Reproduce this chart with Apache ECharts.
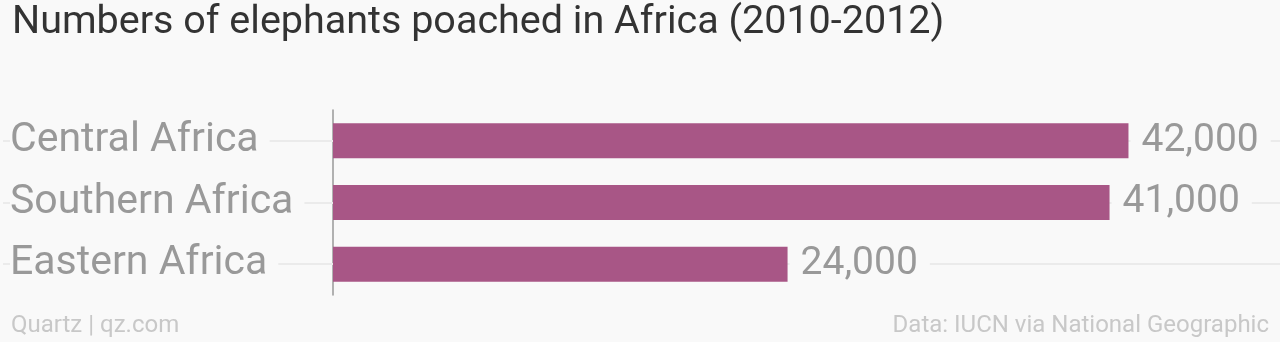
<!DOCTYPE html>
<html><head><meta charset="utf-8">
<script src="https://cdn.jsdelivr.net/npm/echarts@6/dist/echarts.min.js"></script>
<style>html,body{margin:0;padding:0;background:#f9f9f9}#c{width:1280px;height:342px}</style>
</head><body><div id="c"></div>
<script>
const categories = ['Central Africa', 'Southern Africa', 'Eastern Africa'];
const values = [42000, 41000, 24000];
const titleText = 'Numbers of elephants poached in Africa (2010-2012)';
const sourceLeft = 'Quartz | qz.com';
const sourceRight = 'Data: IUCN via National Geographic';

const chart = echarts.init(document.getElementById('c'), null, {renderer: 'canvas'});
const font = 'Roboto, "Open Sans", sans-serif';
chart.setOption({
  backgroundColor: '#f9f9f9',
  animation: false,
  title: [
    {text: titleText, left: 7, top: -2, textStyle: {fontFamily: font, fontSize: 39.5, fontWeight: 'normal', color: '#333'}},
    {text: sourceLeft, left: 6, bottom: -1, textStyle: {fontFamily: font, fontSize: 24, fontWeight: 'normal', color: '#c8c8c8'}},
    {text: sourceRight, right: 6, bottom: -1, textStyle: {fontFamily: font, fontSize: 24, fontWeight: 'normal', color: '#c8c8c8'}}
  ],
  grid: {left: 333, top: 110, width: 947, height: 185, containLabel: false},
  xAxis: {type: 'value', min: 0, max: 50000, show: false},
  yAxis: {
    type: 'category', data: categories, inverse: true,
    axisLine: {show: true, lineStyle: {color: '#999', width: 1.5}},
    axisTick: {show: true, alignWithLabel: true, length: 330, lineStyle: {color: '#ebebeb', width: 2}},
    splitLine: {show: true, alignWithLabel: true, lineStyle: {color: '#ebebeb', width: 2}},
    axisLabel: {
      align: 'left', margin: 323, fontFamily: font, fontSize: 41, color: '#999',
      backgroundColor: '#f9f9f9', padding: [6, 11, 0, 0]
    }
  },
  series: [{
    type: 'bar', data: values, barWidth: 35,
    itemStyle: {color: '#a85686'},
    label: {
      show: true, position: 'right', distance: 2, fontFamily: font, fontSize: 39, color: '#999',
      backgroundColor: '#f9f9f9', padding: [5, 12, 0, 11],
      formatter: p => p.value.toLocaleString('en-US')
    }
  }]
});
</script></body></html>
